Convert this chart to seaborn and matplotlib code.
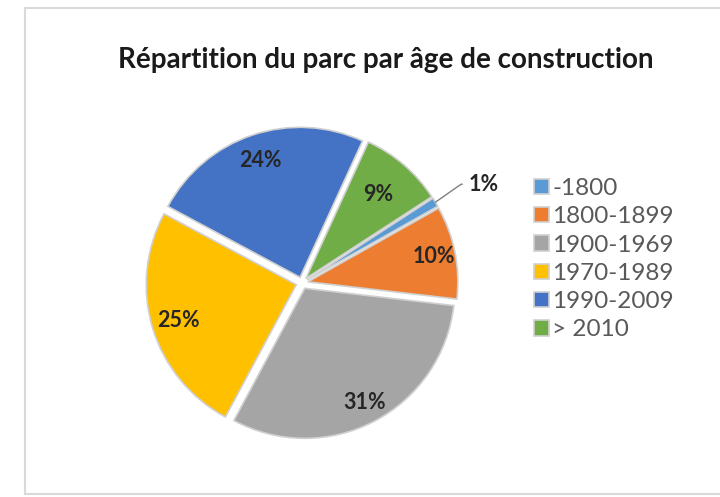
import matplotlib
matplotlib.use("Agg")
import matplotlib.pyplot as plt
import seaborn as sns
import numpy as np

# données du graphique
categories = ['-1800', '1800-1899', '1900-1969', '1970-1989', '1990-2009', '> 2010']
parts = [1, 10, 31, 25, 24, 9]
couleurs = ['#5B9BD5', '#ED7D31', '#A5A5A5', '#FFC000', '#4472C4', '#70AD47']
titre = 'Répartition du parc par âge de construction'

sns.set_theme(style='white')
plt.rcParams['font.family'] = ['Lato', 'DejaVu Sans']

fig = plt.figure(figsize=(7.2, 4.97), dpi=100)

# cadre du graphique
cadre = fig.add_axes([25 / 720, 3 / 497, 720 / 720, 486 / 497])
cadre.set_xticks([])
cadre.set_yticks([])
for cote in ['left', 'top', 'bottom']:
    cadre.spines[cote].set_color('#d9d9d9')
    cadre.spines[cote].set_linewidth(1.5)
cadre.spines['right'].set_visible(False)
cadre.set_zorder(0)

# camembert
r_px = 150
cx, cy = 302, 497 - 283
demi = 1.3 * r_px
ax = fig.add_axes([(cx - demi) / 720, (cy - demi) / 497, 2 * demi / 720, 2 * demi / 497])
ax.patch.set_alpha(0)

wedges, _ = ax.pie(parts, colors=couleurs, startangle=33, counterclock=False,
                   explode=[0.04] * len(parts),
                   wedgeprops=dict(edgecolor='#d0d0d0', linewidth=1.2))
ax.set_xlim(-1.3, 1.3)
ax.set_ylim(-1.3, 1.3)
ax.set_aspect('equal')
ax.axis('off')

dist = [None, 0.86, 0.86, 0.82, 0.82, 0.74]
for w, p, d in zip(wedges, parts, dist):
    ang = np.deg2rad((w.theta1 + w.theta2) / 2)
    x0, y0 = w.center
    if d is None:
        ex, ey = x0 + np.cos(ang) * 1.0, y0 + np.sin(ang) * 1.0
        ax.annotate(f'{p}%', xy=(ex, ey), xytext=(ex + 0.22, ey + 0.12),
                    fontsize=15.5, fontweight='bold', color='#262626',
                    va='center', ha='left',
                    arrowprops=dict(arrowstyle='-', color='#7f7f7f', lw=1,
                                    connectionstyle='angle,angleA=0,angleB=35,rad=0',
                                    shrinkA=2, shrinkB=0))
    else:
        ax.text(x0 + np.cos(ang) * d, y0 + np.sin(ang) * d, f'{p}%',
                ha='center', va='center', fontsize=15.5, fontweight='bold',
                color='#262626')

fig.text(386 / 720, 1 - 60 / 497, titre, ha='center', va='center',
         fontsize=20, fontweight='bold', color='#1a1a1a')

leg = fig.legend(wedges, categories, loc='upper left',
                 bbox_to_anchor=(517 / 720, 1 - 161 / 497), frameon=False,
                 fontsize=17.5, labelcolor='#595959', handlelength=0.6,
                 handleheight=0.6, handletextpad=0.15, labelspacing=0.3,
                 borderpad=0.2)

fig.savefig('out.png', dpi=100)
